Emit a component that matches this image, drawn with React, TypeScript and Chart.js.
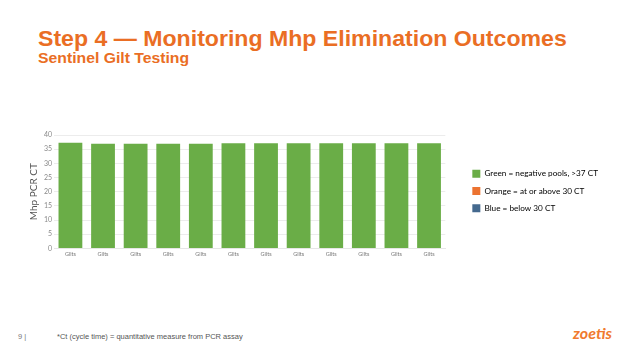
import React, { useEffect, useRef } from "react";
import { Chart, registerables } from "chart.js";

Chart.register(...registerables);

const categories = ["Gilts", "Gilts", "Gilts", "Gilts", "Gilts", "Gilts", "Gilts", "Gilts", "Gilts", "Gilts", "Gilts", "Gilts"];
const ctValues = [37.3, 36.9, 36.9, 36.9, 36.9, 37.1, 37.1, 37.1, 37.1, 37.1, 37.1, 37.1];
const legendLabels = ["Green = negative pools, >37 CT", "Orange = at or above 30 CT", "Blue = below 30 CT"];
const legendColors = ["#6AAD47", "#EC7330", "#44698E"];
const yAxisTitle = "Mhp PCR CT";

const ORANGE = "#EA6E24";
const LEGEND_SHIFT_X = 18;
const LEGEND_SHIFT_Y = -7;

export default function App() {
  const ref = useRef<HTMLCanvasElement | null>(null);

  useEffect(() => {
    document.body.style.margin = "0";
    const legendGap = {
      id: "legendGap",
      beforeInit(chart: any) {
        const lg = chart.legend;
        const origFit = lg.fit;
        lg.fit = function () {
          origFit.call(this);
          this.width += LEGEND_SHIFT_X;
        };
        const origDraw = lg.draw;
        lg.draw = function (...args: any[]) {
          const ctx = this.ctx;
          ctx.save();
          ctx.translate(LEGEND_SHIFT_X, LEGEND_SHIFT_Y);
          origDraw.apply(this, args);
          ctx.restore();
        };
      },
    };
    const chart = new Chart(ref.current as HTMLCanvasElement, {
      type: "bar",
      data: {
        labels: categories,
        datasets: [
          {
            label: "CT",
            data: ctValues,
            backgroundColor: legendColors[0],
            barPercentage: 0.73,
            categoryPercentage: 1,
          },
        ],
      },
      options: {
        animation: false,
        responsive: false,
        maintainAspectRatio: false,
        layout: { padding: { left: 0, right: 16, top: 7, bottom: 1 } },
        plugins: {
          tooltip: { enabled: false },
          legend: {
            position: "right",
            align: "center",
            labels: {
              boxWidth: 8,
              boxHeight: 8,
              padding: 9,
              color: "#707070",
              font: { family: "Lato", size: 8.2 },
              generateLabels: () =>
                legendLabels.map((t, i) => ({
                  text: t,
                  fillStyle: legendColors[i],
                  strokeStyle: legendColors[i],
                  lineWidth: 0,
                  hidden: false,
                  datasetIndex: 0,
                })),
            },
          },
        },
        scales: {
          x: {
            grid: { display: false, drawTicks: false },
            border: { display: true, color: "#e6e6e6" },
            ticks: { color: "#777", font: { family: "Lato", size: 5.5 }, padding: 3 },
          },
          y: {
            min: 0,
            max: 40,
            ticks: { stepSize: 5, color: "#8a8a8a", font: { family: "Lato", size: 7 }, padding: 2 },
            grid: { color: "#ececec", drawTicks: false },
            border: { display: false },
            title: {
              display: true,
              text: yAxisTitle,
              color: "#555",
              font: { family: "Lato", size: 10 },
              padding: { top: 3, bottom: 2 },
            },
          },
        },
      },
      plugins: [legendGap],
    });
    return () => chart.destroy();
  }, []);

  return (
    <div style={{ position: "relative", width: 624, height: 351, background: "#fff", overflow: "hidden", fontFamily: "'Liberation Sans', Arial, sans-serif" }}>
      <div style={{ position: "absolute", left: 38, top: 26, color: ORANGE, fontWeight: 700, fontSize: 22, whiteSpace: "nowrap", lineHeight: "26px", transform: "scaleX(1.05)", transformOrigin: "left top" }}>
        Step 4 — Monitoring Mhp Elimination Outcomes
      </div>
      <div style={{ position: "absolute", left: 38, top: 49, color: ORANGE, fontWeight: 700, fontSize: 15, whiteSpace: "nowrap", lineHeight: "17px", transform: "scaleX(1.05)", transformOrigin: "left top" }}>
        Sentinel Gilt Testing
      </div>
      <canvas ref={ref} width={599} height={134} style={{ position: "absolute", left: 25, top: 128, width: 599, height: 134 }} />
      <div style={{ position: "absolute", left: 18, top: 332, color: "#777", fontSize: 7.5, whiteSpace: "nowrap" }}>9 |</div>
      <div style={{ position: "absolute", left: 57, top: 332, color: "#555", fontSize: 7.5, whiteSpace: "nowrap" }}>
        *Ct (cycle time) = quantitative measure from PCR assay
      </div>
      <div style={{ position: "absolute", left: 573, top: 323, color: "#F07A2E", fontWeight: 700, fontStyle: "italic", fontSize: 16, whiteSpace: "nowrap", fontFamily: "Lato, sans-serif" }}>
        zoetis
      </div>
    </div>
  );
}
